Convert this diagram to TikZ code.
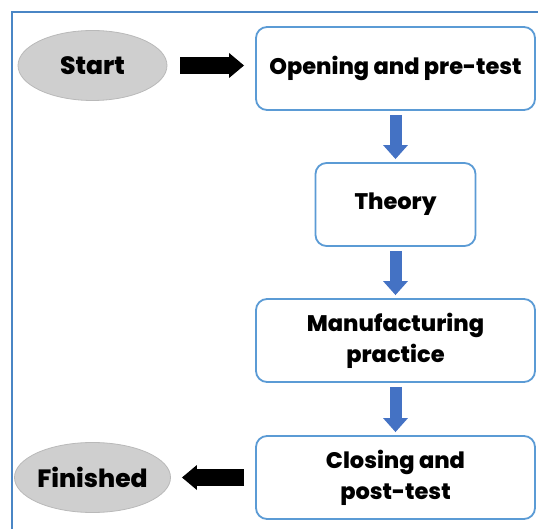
\documentclass[tikz,border=0pt]{standalone}
\usepackage{fontspec}
\setmainfont{Poppins}
\newfontfamily\heavyfont{Poppins ExtraBold}
\usetikzlibrary{arrows.meta,shapes.geometric}

\definecolor{boxblue}{HTML}{5B9BD5}
\definecolor{framblue}{HTML}{4A86C5}
\definecolor{arrblue}{HTML}{4472C4}

\begin{document}
\begin{tikzpicture}[
    x=1pt, y=1pt,
    node distance=136pt,
    stage/.style={rectangle, draw=boxblue, line width=1.8pt, fill=white, rounded corners=11pt, minimum width=279pt, minimum height=83pt, align=center, font=\fontsize{22.5}{31}\selectfont\heavyfont},
    terminal/.style={ellipse, draw=gray!55, line width=0.8pt, fill=gray!38, minimum width=149pt, minimum height=70pt, inner sep=0pt, font=\fontsize{25}{28}\selectfont\heavyfont},
    darrow/.style={-{Triangle[length=15pt, width=24pt]}, line width=17pt, black},
    barrow/.style={-{Triangle[length=14pt, width=24pt]}, line width=12pt, arrblue, shorten <=4pt, shorten >=3pt}
]
\useasboundingbox (0,0) rectangle (538,-529);

% frame
\draw[framblue, line width=2pt] (538,-12) -- (12,-12) -- (12,-529);

\node[stage] (open) at (395.5,-68.5) {Opening and pre-test};
\node[stage, below of=open, minimum width=160pt] (theory) {Theory};
\node[stage, below of=theory] (manuf) {Manufacturing\\practice};
\node[stage, below of=manuf, yshift=-1pt] (close) {Closing and\\post-test};

\node[terminal, left of=open, node distance=303pt, yshift=3pt] (start) {Start};
\node[terminal, left of=close, node distance=303pt] (finish) {Finished};

\draw[darrow, shorten <=13pt, shorten >=11pt] (start) -- (start -| open.west);
\draw[darrow, shorten <=11pt, shorten >=11pt] (close.west) -- (finish);
\draw[barrow] (open) -- (theory);
\draw[barrow] (theory) -- (manuf);
\draw[barrow] (manuf) -- (close);

\end{tikzpicture}
\end{document}
